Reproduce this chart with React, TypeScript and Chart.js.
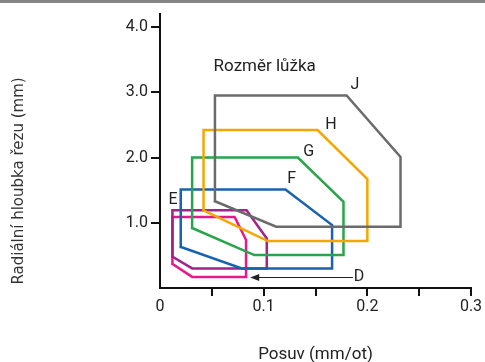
import React, { useEffect, useRef } from "react";
import { Chart, registerables } from "chart.js";

Chart.register(...registerables);

const xTickValues = [0, 0.05, 0.1, 0.15, 0.2, 0.25, 0.3];
const yTickValues = [1, 2, 3, 4];

const seriesNames = ["J", "H", "G", "F", "E", "D"];
const seriesColors = ["#6b6b6b", "#f5a700", "#27a54a", "#1863ad", "#a3228b", "#e8188a"];

const shapeJ = [[0.053, 1.33], [0.053, 2.95], [0.18, 2.95], [0.232, 2.01], [0.232, 0.94], [0.112, 0.94], [0.053, 1.33]];
const shapeH = [[0.042, 1.19], [0.042, 2.42], [0.152, 2.42], [0.2, 1.67], [0.2, 0.72], [0.104, 0.72], [0.042, 1.19]];
const shapeG = [[0.031, 0.92], [0.031, 2.0], [0.133, 2.0], [0.177, 1.32], [0.177, 0.505], [0.091, 0.505], [0.031, 0.92]];
const shapeF = [[0.02, 0.63], [0.02, 1.51], [0.121, 1.51], [0.166, 0.965], [0.166, 0.3], [0.079, 0.3], [0.02, 0.63]];
const shapeE = [[0.012, 0.48], [0.012, 1.19], [0.0835, 1.19], [0.103, 0.76], [0.103, 0.3], [0.031, 0.3], [0.012, 0.48]];
const shapeD = [[0.012, 0.37], [0.012, 1.09], [0.072, 1.09], [0.083, 0.735], [0.083, 0.17], [0.031, 0.17], [0.012, 0.37]];
const shapes = [shapeJ, shapeH, shapeG, shapeF, shapeE, shapeD];

const labelX = [0.188, 0.165, 0.1435, 0.127, 0.0125, 0.192];
const labelY = [3.11, 2.5, 2.08, 1.67, 1.35, 0.17];

const titleText = "Rozměr lůžka";
const titlePos = [0.101, 3.39];
const arrowFrom = [0.186, 0.165];
const arrowTo = [0.087, 0.165];

const xAxisTitle = "Posuv (mm/ot)";
const yAxisTitle = "Radiální hloubka řezu (mm)";

const FONT = "Roboto, 'Liberation Sans', sans-serif";

const annotPlugin = {
  id: "annot",
  afterDatasetsDraw(chart: any) {
    const { ctx, scales } = chart;
    const x = scales.x;
    const y = scales.y;
    ctx.save();
    ctx.fillStyle = "#222";
    ctx.font = `16px ${FONT}`;
    ctx.textAlign = "center";
    ctx.textBaseline = "middle";
    seriesNames.forEach((n, i) => {
      ctx.fillText(n, x.getPixelForValue(labelX[i]), y.getPixelForValue(labelY[i]));
    });
    ctx.font = `17px ${FONT}`;
    ctx.fillText(titleText, x.getPixelForValue(titlePos[0]), y.getPixelForValue(titlePos[1]));
    // arrow
    const x1 = x.getPixelForValue(arrowFrom[0]);
    const y1 = Math.round(y.getPixelForValue(arrowFrom[1])) + 0.5;
    const x2 = x.getPixelForValue(arrowTo[0]);
    ctx.strokeStyle = "#222";
    ctx.lineWidth = 1;
    ctx.beginPath();
    ctx.moveTo(x1, y1);
    ctx.lineTo(x2 + 6, y1);
    ctx.stroke();
    ctx.beginPath();
    ctx.moveTo(x2, y1);
    ctx.lineTo(x2 + 9, y1 - 3.5);
    ctx.lineTo(x2 + 9, y1 + 3.5);
    ctx.closePath();
    ctx.fill();
    // y axis title
    ctx.save();
    ctx.translate(19, 181);
    ctx.rotate(-Math.PI / 2);
    ctx.font = `15px 'DejaVu Sans', sans-serif`;
    ctx.fillStyle = "#333";
    ctx.fillText(yAxisTitle, 0, 0);
    ctx.restore();
    ctx.restore();
  },
};

export default function App() {
  const ref = useRef<HTMLCanvasElement>(null);
  useEffect(() => {
    if (!ref.current) return;
    const chart = new Chart(ref.current, {
      type: "line",
      data: {
        datasets: shapes.map((s, i) => ({
          label: seriesNames[i],
          data: s.map((p) => ({ x: p[0], y: p[1] })),
          borderColor: seriesColors[i],
          backgroundColor: seriesColors[i],
          borderWidth: 2.5,
          pointRadius: 0,
          fill: false,
          tension: 0,
          borderJoinStyle: "miter",
          borderCapStyle: "square",
        })),
      },
      options: {
        animation: false,
        responsive: true,
        maintainAspectRatio: false,
        layout: { padding: { top: 14, right: 14, left: 0, bottom: 0 } },
        plugins: { legend: { display: false }, tooltip: { enabled: false } },
        scales: {
          x: {
            type: "linear",
            min: 0,
            max: 0.3,
            afterBuildTicks: (s: any) => {
              s.ticks = xTickValues.map((v) => ({ value: v }));
            },
            afterFit: (s: any) => {
              s.height = 74;
            },
            ticks: {
              autoSkip: false,
              maxRotation: 0,
              color: "#222",
              font: { size: 16, family: FONT },
              padding: 1,
              callback: (v: any) => {
                const n = Math.round(Number(v) * 100);
                if (n === 0) return "0";
                return n % 10 === 0 ? (n / 100).toFixed(1) : "";
              },
            },
            grid: {
              drawOnChartArea: false,
              drawTicks: true,
              tickLength: 8,
              lineWidth: 2,
              color: (c: any) => (c.tick && c.tick.value === 0 ? "rgba(0,0,0,0)" : "#111"),
            },
            border: { display: true, color: "#111", width: 2 },
            title: {
              display: true,
              text: xAxisTitle,
              color: "#222",
              font: { size: 17, family: FONT },
              padding: { top: 0, bottom: -3 },
            },
          },
          y: {
            type: "linear",
            min: 0,
            max: 4.2,
            afterBuildTicks: (s: any) => {
              s.ticks = yTickValues.map((v) => ({ value: v }));
            },
            afterFit: (s: any) => {
              s.width = 160;
            },
            ticks: {
              autoSkip: false,
              color: "#222",
              font: { size: 16, family: FONT },
              padding: 3,
              callback: (v: any) => Number(v).toFixed(1),
            },
            grid: {
              drawOnChartArea: false,
              drawTicks: true,
              tickLength: 9,
              lineWidth: 2,
              color: "#111",
            },
            border: { display: true, color: "#111", width: 2 },
          },
        },
      },
      plugins: [annotPlugin],
    } as any);
    return () => chart.destroy();
  }, []);
  return (
    <div style={{ position: "fixed", left: 0, top: 0, width: 485, height: 362, background: "#fff" }}>
      <div style={{ position: "absolute", left: 0, top: 0, width: 485, height: 3, background: "#858585" }} />
      <canvas ref={ref} />
    </div>
  );
}
